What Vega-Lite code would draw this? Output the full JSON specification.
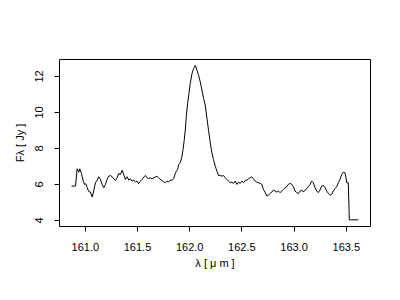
{
  "$schema": "https://vega.github.io/schema/vega-lite/v6.json",
  "width": 311,
  "height": 167,
  "autosize": "none",
  "padding": {"left": 59, "top": 59, "right": 30, "bottom": 74},
  "background": "white",
  "config": {
    "view": {"stroke": "black", "strokeWidth": 1},
    "font": "Liberation Sans",
    "axis": {
      "grid": false,
      "domain": false,
      "ticks": true,
      "tickColor": "black",
      "tickSize": 5,
      "tickWidth": 1,
      "labelFont": "Liberation Sans",
      "labelFontSize": 11,
      "labelColor": "black",
      "titleFont": "Liberation Sans",
      "titleFontSize": 11,
      "titleFontWeight": "normal",
      "titleColor": "black"
    }
  },
  "data": {
    "values": [
      {"wl": 160.873, "flux": 5.876},
      {"wl": 160.911, "flux": 5.876},
      {"wl": 160.927, "flux": 6.836},
      {"wl": 160.943, "flux": 6.648},
      {"wl": 160.952, "flux": 6.836},
      {"wl": 160.968, "flux": 6.576},
      {"wl": 160.985, "flux": 6.152},
      {"wl": 160.997, "flux": 5.970},
      {"wl": 161.010, "flux": 6.008},
      {"wl": 161.023, "flux": 5.788},
      {"wl": 161.038, "flux": 5.567},
      {"wl": 161.054, "flux": 5.545},
      {"wl": 161.071, "flux": 5.269},
      {"wl": 161.086, "flux": 5.600},
      {"wl": 161.102, "flux": 6.063},
      {"wl": 161.119, "flux": 6.207},
      {"wl": 161.134, "flux": 6.394},
      {"wl": 161.150, "flux": 6.245},
      {"wl": 161.166, "flux": 5.970},
      {"wl": 161.182, "flux": 5.788},
      {"wl": 161.198, "flux": 5.970},
      {"wl": 161.214, "flux": 6.245},
      {"wl": 161.229, "flux": 6.427},
      {"wl": 161.246, "flux": 6.466},
      {"wl": 161.262, "flux": 6.394},
      {"wl": 161.277, "flux": 6.284},
      {"wl": 161.294, "flux": 6.190},
      {"wl": 161.310, "flux": 6.339},
      {"wl": 161.325, "flux": 6.576},
      {"wl": 161.341, "flux": 6.521},
      {"wl": 161.358, "flux": 6.759},
      {"wl": 161.373, "flux": 6.521},
      {"wl": 161.389, "flux": 6.245},
      {"wl": 161.406, "flux": 6.394},
      {"wl": 161.421, "flux": 6.207},
      {"wl": 161.437, "flux": 6.284},
      {"wl": 161.453, "flux": 6.152},
      {"wl": 161.469, "flux": 6.207},
      {"wl": 161.485, "flux": 6.119},
      {"wl": 161.501, "flux": 6.152},
      {"wl": 161.516, "flux": 6.008},
      {"wl": 161.533, "flux": 6.152},
      {"wl": 161.549, "flux": 6.245},
      {"wl": 161.564, "flux": 6.372},
      {"wl": 161.580, "flux": 6.466},
      {"wl": 161.597, "flux": 6.339},
      {"wl": 161.612, "flux": 6.284},
      {"wl": 161.628, "flux": 6.339},
      {"wl": 161.644, "flux": 6.284},
      {"wl": 161.660, "flux": 6.339},
      {"wl": 161.692, "flux": 6.427},
      {"wl": 161.707, "flux": 6.339},
      {"wl": 161.724, "flux": 6.245},
      {"wl": 161.740, "flux": 6.190},
      {"wl": 161.755, "flux": 6.119},
      {"wl": 161.772, "flux": 6.063},
      {"wl": 161.788, "flux": 6.152},
      {"wl": 161.803, "flux": 6.119},
      {"wl": 161.820, "flux": 6.190},
      {"wl": 161.836, "flux": 6.207},
      {"wl": 161.851, "flux": 6.284},
      {"wl": 161.867, "flux": 6.576},
      {"wl": 161.877, "flux": 6.703},
      {"wl": 161.889, "flux": 6.797},
      {"wl": 161.899, "flux": 7.073},
      {"wl": 161.915, "flux": 7.167},
      {"wl": 161.931, "flux": 7.531},
      {"wl": 161.941, "flux": 7.901},
      {"wl": 161.953, "flux": 8.452},
      {"wl": 161.963, "flux": 9.004},
      {"wl": 161.972, "flux": 9.738},
      {"wl": 161.985, "flux": 10.477},
      {"wl": 161.998, "flux": 11.029},
      {"wl": 162.010, "flux": 11.580},
      {"wl": 162.027, "flux": 12.132},
      {"wl": 162.042, "flux": 12.408},
      {"wl": 162.059, "flux": 12.590},
      {"wl": 162.075, "flux": 12.314},
      {"wl": 162.090, "flux": 12.038},
      {"wl": 162.106, "flux": 11.669},
      {"wl": 162.122, "flux": 11.211},
      {"wl": 162.138, "flux": 10.753},
      {"wl": 162.154, "flux": 10.383},
      {"wl": 162.170, "flux": 9.649},
      {"wl": 162.185, "flux": 9.004},
      {"wl": 162.202, "flux": 8.270},
      {"wl": 162.218, "flux": 7.718},
      {"wl": 162.233, "flux": 7.349},
      {"wl": 162.250, "flux": 6.979},
      {"wl": 162.266, "flux": 6.703},
      {"wl": 162.281, "flux": 6.466},
      {"wl": 162.297, "flux": 6.466},
      {"wl": 162.314, "flux": 6.427},
      {"wl": 162.329, "flux": 6.466},
      {"wl": 162.345, "flux": 6.339},
      {"wl": 162.361, "flux": 6.245},
      {"wl": 162.377, "flux": 6.152},
      {"wl": 162.393, "flux": 6.063},
      {"wl": 162.409, "flux": 6.096},
      {"wl": 162.425, "flux": 6.025},
      {"wl": 162.441, "flux": 6.152},
      {"wl": 162.457, "flux": 5.970},
      {"wl": 162.473, "flux": 6.096},
      {"wl": 162.489, "flux": 6.025},
      {"wl": 162.505, "flux": 6.152},
      {"wl": 162.520, "flux": 6.063},
      {"wl": 162.536, "flux": 6.190},
      {"wl": 162.553, "flux": 6.207},
      {"wl": 162.568, "flux": 6.284},
      {"wl": 162.584, "flux": 6.339},
      {"wl": 162.600, "flux": 6.394},
      {"wl": 162.616, "flux": 6.284},
      {"wl": 162.632, "flux": 6.152},
      {"wl": 162.648, "flux": 6.096},
      {"wl": 162.663, "flux": 6.063},
      {"wl": 162.680, "flux": 6.025},
      {"wl": 162.696, "flux": 5.970},
      {"wl": 162.711, "flux": 5.694},
      {"wl": 162.728, "flux": 5.512},
      {"wl": 162.744, "flux": 5.324},
      {"wl": 162.759, "flux": 5.363},
      {"wl": 162.775, "flux": 5.473},
      {"wl": 162.792, "flux": 5.545},
      {"wl": 162.807, "flux": 5.655},
      {"wl": 162.823, "flux": 5.600},
      {"wl": 162.839, "flux": 5.545},
      {"wl": 162.855, "flux": 5.600},
      {"wl": 162.871, "flux": 5.512},
      {"wl": 162.887, "flux": 5.600},
      {"wl": 162.902, "flux": 5.694},
      {"wl": 162.919, "flux": 5.788},
      {"wl": 162.935, "flux": 5.843},
      {"wl": 162.950, "flux": 5.970},
      {"wl": 162.967, "flux": 6.025},
      {"wl": 162.983, "flux": 5.970},
      {"wl": 162.998, "flux": 5.843},
      {"wl": 163.014, "flux": 5.600},
      {"wl": 163.031, "flux": 5.512},
      {"wl": 163.046, "flux": 5.457},
      {"wl": 163.062, "flux": 5.600},
      {"wl": 163.078, "flux": 5.655},
      {"wl": 163.094, "flux": 5.545},
      {"wl": 163.110, "flux": 5.655},
      {"wl": 163.126, "flux": 5.732},
      {"wl": 163.141, "flux": 5.843},
      {"wl": 163.158, "flux": 5.970},
      {"wl": 163.174, "flux": 6.152},
      {"wl": 163.189, "flux": 6.063},
      {"wl": 163.206, "flux": 5.788},
      {"wl": 163.222, "flux": 5.600},
      {"wl": 163.237, "flux": 5.512},
      {"wl": 163.253, "flux": 5.655},
      {"wl": 163.269, "flux": 5.876},
      {"wl": 163.285, "flux": 5.914},
      {"wl": 163.301, "flux": 5.788},
      {"wl": 163.317, "flux": 5.600},
      {"wl": 163.333, "flux": 5.473},
      {"wl": 163.349, "flux": 5.363},
      {"wl": 163.365, "flux": 5.418},
      {"wl": 163.380, "flux": 5.600},
      {"wl": 163.397, "flux": 5.732},
      {"wl": 163.413, "flux": 5.843},
      {"wl": 163.428, "flux": 6.063},
      {"wl": 163.445, "flux": 6.245},
      {"wl": 163.461, "flux": 6.521},
      {"wl": 163.476, "flux": 6.648},
      {"wl": 163.492, "flux": 6.615},
      {"wl": 163.502, "flux": 6.339},
      {"wl": 163.509, "flux": 6.063},
      {"wl": 163.524, "flux": 6.063},
      {"wl": 163.534, "flux": 4.000},
      {"wl": 163.557, "flux": 4.000},
      {"wl": 163.620, "flux": 4.000}
    ]
  },
  "mark": {"type": "line", "color": "black", "strokeWidth": 1, "interpolate": "linear"},
  "encoding": {
    "x": {
      "field": "wl",
      "type": "quantitative",
      "scale": {"domain": [160.753, 163.732], "nice": false, "zero": false},
      "axis": {
        "title": "λ [ μ m ]",
        "values": [161.0, 161.5, 162.0, 162.5, 163.0, 163.5],
        "format": ".1f",
        "labelBaseline": "alphabetic",
        "labelPadding": 19,
        "titleBaseline": "alphabetic",
        "titleY": 40.5,
        "titleX": 155.5,
        "titleAlign": "center"
      }
    },
    "y": {
      "field": "flux",
      "type": "quantitative",
      "scale": {"domain": [3.656, 12.944], "nice": false, "zero": false},
      "axis": {
        "title": "Fλ [ Jy ]",
        "values": [4, 6, 8, 10, 12],
        "labelAngle": -90,
        "labelAlign": "center",
        "labelBaseline": "alphabetic",
        "labelPadding": 12,
        "titleAngle": -90,
        "titleBaseline": "alphabetic",
        "titleAlign": "center",
        "titleX": -35.3,
        "titleY": 83.5
      }
    }
  }
}
